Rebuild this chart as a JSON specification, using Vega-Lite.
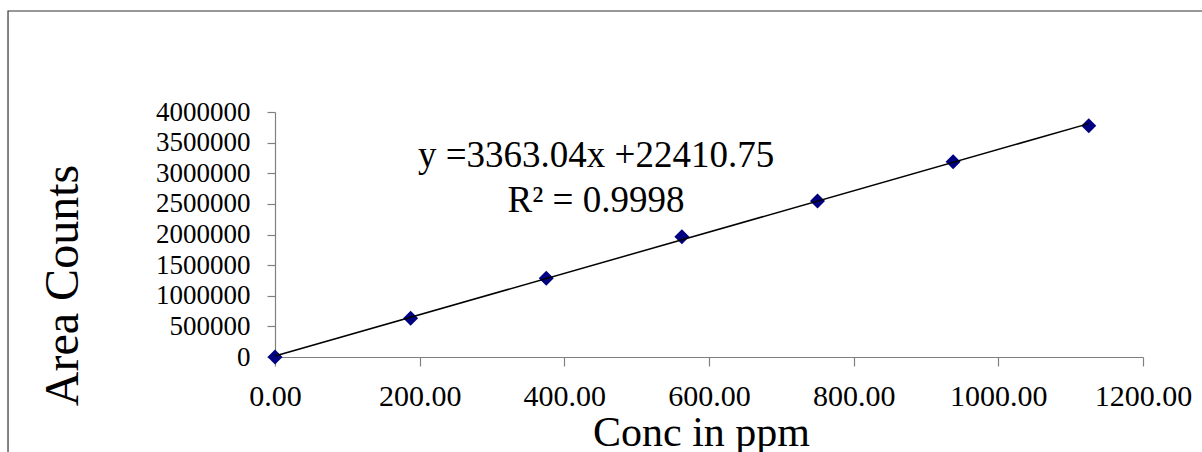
{
  "$schema": "https://vega.github.io/schema/vega-lite/v6.json",
  "width": 868,
  "height": 245,
  "autosize": {"type": "none"},
  "padding": {"left": 275, "top": 112, "right": 59, "bottom": 95},
  "background": "white",
  "config": {
    "view": {"stroke": null},
    "font": "Liberation Serif",
    "axis": {
      "grid": false,
      "domainColor": "#808080",
      "tickColor": "#808080",
      "domainWidth": 1.2,
      "tickWidth": 1.2,
      "labelColor": "black",
      "titleColor": "black",
      "labelFont": "Liberation Serif",
      "titleFont": "Liberation Serif",
      "titleFontWeight": "normal",
      "labelOverlap": false,
      "labelFlush": false,
      "labelBound": false
    }
  },
  "data": {
    "values": [
      {"conc": 0, "area": 0},
      {"conc": 187.5, "area": 631800},
      {"conc": 375, "area": 1284900},
      {"conc": 562.5, "area": 1964100},
      {"conc": 750, "area": 2546900},
      {"conc": 937.5, "area": 3188600},
      {"conc": 1125, "area": 3776300}
    ]
  },
  "layer": [
    {
      "mark": {"type": "point", "shape": "diamond", "filled": true, "color": "#000080", "size": 225, "opacity": 1},
      "encoding": {
        "x": {
          "field": "conc",
          "type": "quantitative",
          "scale": {"domain": [0, 1200], "nice": false, "zero": false},
          "axis": {
            "values": [0, 200, 400, 600, 800, 1000, 1200],
            "format": ".2f",
            "labelFontSize": 30,
            "tickSize": 9,
            "labelPadding": 39,
            "labelBaseline": "alphabetic",
            "labelOverlap": false,
            "title": "Conc in ppm",
            "titleFontSize": 42,
            "titleBaseline": "alphabetic",
            "titleX": 426,
            "titleY": 88,
            "titleAnchor": "middle",
            "titleAlign": "center"
          }
        },
        "y": {
          "field": "area",
          "type": "quantitative",
          "scale": {"domain": [0, 4000000], "nice": false, "zero": false},
          "axis": {
            "values": [0, 500000, 1000000, 1500000, 2000000, 2500000, 3000000, 3500000, 4000000],
            "tickCount": 9,
            "format": "d",
            "labelFontSize": 27,
            "labelOverlap": false,
            "tickSize": 8,
            "labelPadding": 17,
            "title": "Area Counts",
            "titleFontSize": 48,
            "titleAngle": -90,
            "titleBaseline": "alphabetic",
            "titleAlign": "center",
            "titleX": -198,
            "titleY": 173
          }
        }
      }
    },
    {
      "transform": [{"regression": "area", "on": "conc"}],
      "mark": {"type": "line", "color": "black", "strokeWidth": 1.5},
      "encoding": {
        "x": {"field": "conc", "type": "quantitative"},
        "y": {"field": "area", "type": "quantitative"}
      }
    },
    {
      "data": {"values": [{"label": "frame"}]},
      "mark": {"type": "rect", "fill": null, "stroke": "#333333", "strokeWidth": 1.2, "clip": false},
      "encoding": {
        "x": {"datum": -369.1, "type": "quantitative"},
        "x2": {"datum": 1292.6},
        "y": {"datum": 5648980, "type": "quantitative"},
        "y2": {"datum": -1844898}
      }
    },
    {
      "data": {"values": [{"label": "equation"}]},
      "mark": {
        "type": "text",
        "fontSize": 37,
        "font": "Liberation Serif",
        "color": "black",
        "align": "center",
        "baseline": "alphabetic",
        "lineHeight": 45
      },
      "encoding": {
        "x": {"datum": 443.8, "type": "quantitative"},
        "y": {"datum": 3102040, "type": "quantitative"},
        "text": {"value": ["y =3363.04x +22410.75", "R² = 0.9998"]}
      }
    }
  ]
}
